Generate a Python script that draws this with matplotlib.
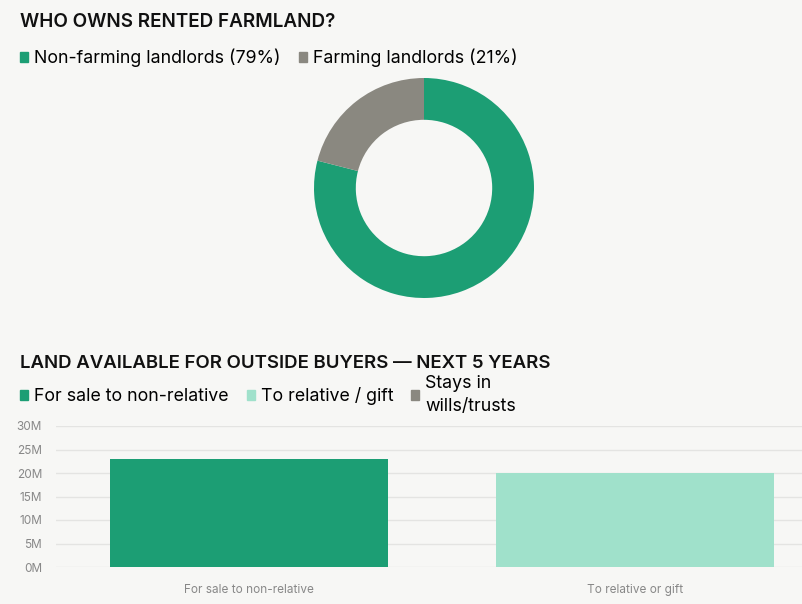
import matplotlib.pyplot as plt
from matplotlib.patches import Patch
from matplotlib.ticker import FuncFormatter

# -- DATA
owner_labels = ['Non-farming landlords (79%)', 'Farming landlords (21%)']
owner_shares = [79, 21]
owner_colors = ['#1c9e74', '#8a8880']

legend_labels = ['For sale to non-relative', 'To relative / gift', 'Stays in\nwills/trusts']
legend_colors = ['#1c9e74', '#a0e1cb', '#8a8880']
bar_categories = ['For sale to non-relative', 'To relative or gift']
bar_values = [23e6, 20e6]
bar_colors = ['#1c9e74', '#a0e1cb']

BG = '#f7f7f5'
W, H = 803, 604


def main():
    plt.rcParams['font.family'] = ['Inter', 'DejaVu Sans']
    fig = plt.figure(figsize=(W / 100, H / 100), dpi=100, facecolor=BG)

    # -- DONUT
    fig.text(20 / W, 1 - 22 / H, 'WHO OWNS RENTED FARMLAND?', fontsize=13.6,
             fontweight='semibold', va='center', ha='left', color='#111111')
    handles = [Patch(color=c) for c in owner_colors]
    fig.legend(handles, owner_labels, loc='center left', bbox_to_anchor=(20 / W, 1 - 58 / H),
               ncol=2, frameon=False, fontsize=12.8, handlelength=0.45, handleheight=0.45,
               handletextpad=0.35, columnspacing=1.0, borderaxespad=0, borderpad=0)

    ax1 = fig.add_axes([314 / W, 1 - 298 / H, 220 / W, 220 / H])
    ax1.set_facecolor(BG)
    ax1.pie(owner_shares, colors=owner_colors, startangle=90, counterclock=False,
            wedgeprops=dict(width=0.38, linewidth=0))
    ax1.set_xlim(-1, 1)
    ax1.set_ylim(-1, 1)

    # -- BARS
    fig.text(20 / W, 1 - 363 / H, 'LAND AVAILABLE FOR OUTSIDE BUYERS \u2014 NEXT 5 YEARS',
             fontsize=13.4, fontweight='semibold', va='center', ha='left', color='#111111')
    handles = [Patch(color=c) for c in legend_colors]
    leg = fig.legend(handles, legend_labels, loc='center left', bbox_to_anchor=(20 / W, 1 - 395 / H),
                     ncol=3, frameon=False, fontsize=12.8, handlelength=0.45, handleheight=0.45,
                     handletextpad=0.35, columnspacing=1.0, borderaxespad=0, borderpad=0,
                     labelspacing=0.1)
    for t in leg.get_texts():
        t.set_linespacing(1.45)

    ax2 = fig.add_axes([56 / W, 1 - 567 / H, (W - 56) / W, 141 / H])
    ax2.set_facecolor(BG)
    x = range(len(bar_categories))
    ax2.bar(x, bar_values, width=0.72, color=bar_colors, zorder=2)
    ax2.set_xlim(-0.5, (W - 56) / 386 - 0.5)
    ax2.set_ylim(0, 30e6)
    ax2.set_yticks([0, 5e6, 10e6, 15e6, 20e6, 25e6, 30e6])
    ax2.yaxis.set_major_formatter(FuncFormatter(lambda v, p: f'{v / 1e6:.0f}M'))
    ax2.set_xticks(list(x))
    ax2.set_xticklabels(bar_categories)
    ax2.grid(axis='y', color='#e4e4e2', linewidth=1, zorder=0)
    for s in ax2.spines.values():
        s.set_visible(False)
    ax2.tick_params(length=0, labelsize=8.5, labelcolor='#888888')
    ax2.tick_params(axis='y', pad=10)
    ax2.tick_params(axis='x', pad=12)

    fig.savefig('out.png', dpi=100, facecolor=BG)


main()
